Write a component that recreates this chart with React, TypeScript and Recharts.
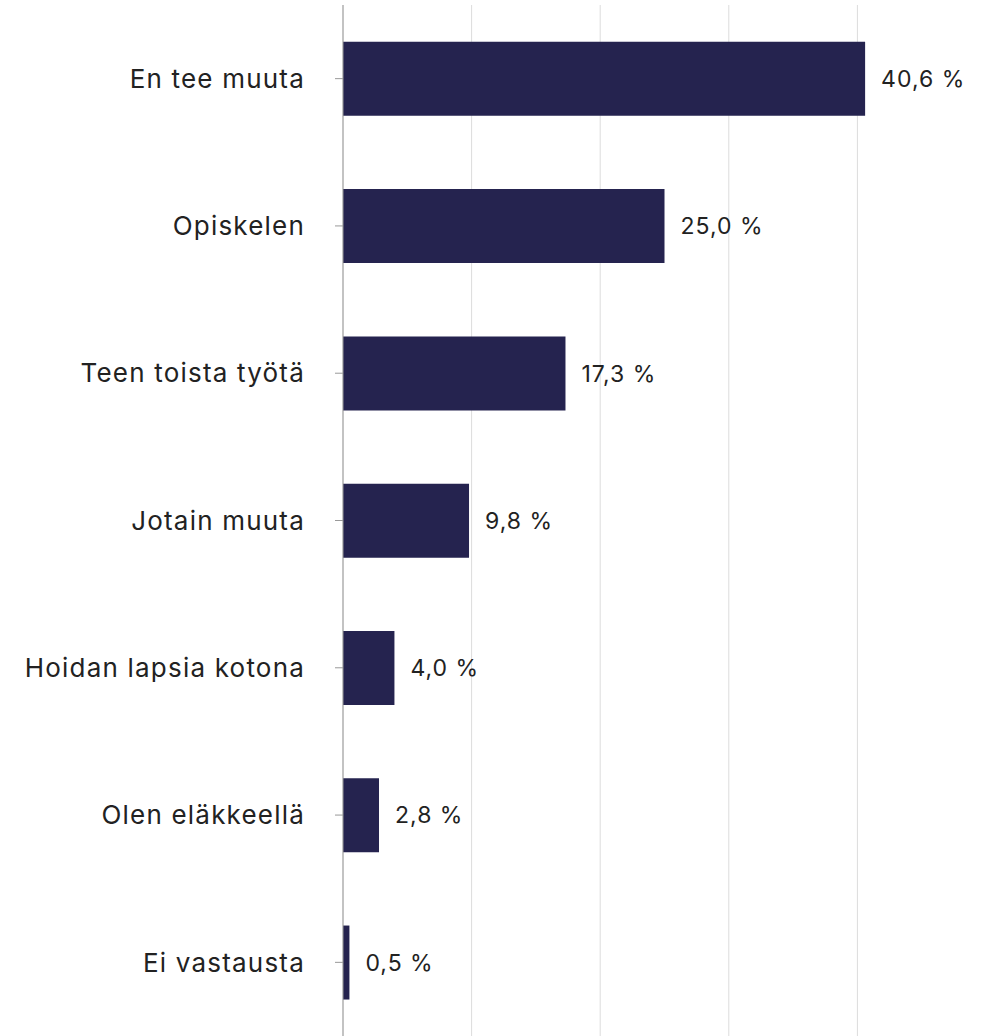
import { BarChart, Bar, XAxis, YAxis, CartesianGrid, LabelList } from 'recharts'

const categories = [
  'En tee muuta',
  'Opiskelen',
  'Teen toista työtä',
  'Jotain muuta',
  'Hoidan lapsia kotona',
  'Olen eläkkeellä',
  'Ei vastausta',
]

const shares = [40.6, 25.0, 17.3, 9.8, 4.0, 2.8, 0.5]

const xTicks = [0, 10, 20, 30, 40]

const data = categories.map((name, i) => ({ name, value: shares[i] }))

const fmt = (v: any) => `${Number(v).toFixed(1).replace('.', ',')} %`

export default function App() {
  return (
    <div style={{ position: 'absolute', top: 0, left: 0, fontFamily: 'Inter, sans-serif' }}>
      <BarChart
        width={986}
        height={1036}
        data={data}
        layout="vertical"
        margin={{ top: 5, right: 0, bottom: 0, left: 0 }}
        barCategoryGap="25%"
      >
        <CartesianGrid horizontal={false} stroke="#dcdcdc" syncWithTicks />
        <XAxis type="number" domain={[0, 50]} ticks={xTicks} hide />
        <YAxis
          type="category"
          dataKey="name"
          width={343}
          stroke="#999"
          tickSize={8}
          tickMargin={30}
          tick={{ fill: '#222', fontSize: 26, letterSpacing: 1.2 }}
        />
        <Bar dataKey="value" fill="#25234f" isAnimationActive={false}>
          <LabelList
            dataKey="value"
            position="right"
            offset={16}
            formatter={fmt}
            style={{ fill: '#222', fontSize: 23, letterSpacing: 1 }}
          />
        </Bar>
      </BarChart>
    </div>
  )
}
